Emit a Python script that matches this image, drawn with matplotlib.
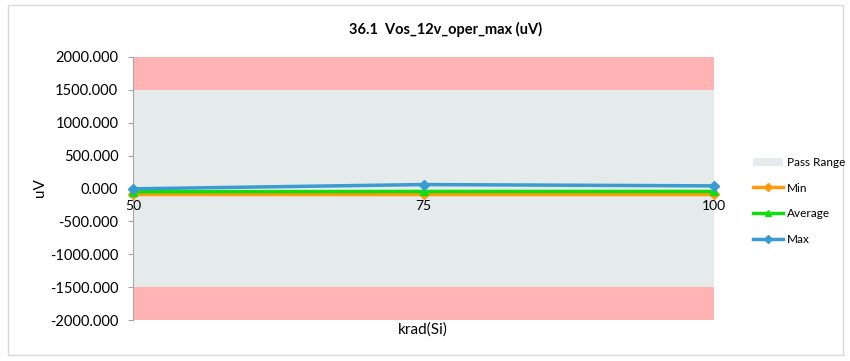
import matplotlib
matplotlib.use("Agg")
import matplotlib.pyplot as plt
from matplotlib.patches import Rectangle, Patch
from matplotlib.lines import Line2D

plt.rcParams['font.family'] = ['Lato', 'DejaVu Sans']

title = "36.1  Vos_12v_oper_max (uV)"
krad = [50, 75, 100]
min_vals = [-90, -90, -90]
avg_vals = [-50, -45, -45]
max_vals = [-5, 60, 40]
pass_low, pass_high = -1500, 1500
y_low, y_high = -2000, 2000
yticks = [2000, 1500, 1000, 500, 0, -500, -1000, -1500, -2000]

c_min = '#ff9a0a'
c_avg = '#11dd11'
c_max = '#3a9bd0'
c_pass = '#e5eaea'
c_fail = '#ffb3b3'

fig = plt.figure(figsize=(8.5, 3.61), dpi=100)
fig.patches.append(Rectangle((8/850, 1-355/361), 835/850, 350/361, transform=fig.transFigure,
                             fill=False, edgecolor='#d9d9d9', linewidth=1))
ax = fig.add_axes([133/850, 1-320/361, (714-133)/850, (320-57)/361])

ax.axhspan(pass_low, pass_high, color=c_pass, lw=0, zorder=0)
ax.axhspan(pass_high, y_high, color=c_fail, lw=0, zorder=0)
ax.axhspan(y_low, pass_low, color=c_fail, lw=0, zorder=0)

ax.plot(krad, min_vals, color=c_min, lw=2.5, marker='D', ms=5, zorder=3, clip_on=False)
ax.plot(krad, avg_vals, color=c_avg, lw=2.5, marker='^', ms=6, zorder=4, clip_on=False)
ax.plot(krad, max_vals, color=c_max, lw=2.5, marker='D', ms=5, zorder=5, clip_on=False)

ax.set_xlim(50, 100)
ax.set_ylim(y_low, y_high)
ax.set_yticks(yticks)
ax.set_yticklabels([f"{v:.3f}" for v in yticks], fontsize=10.5)
ax.set_xticks(krad)
ax.set_xticklabels([str(k) for k in krad], fontsize=9)
ax.spines['bottom'].set_position(('data', 0))
ax.spines['bottom'].set_visible(False)
ax.spines['top'].set_visible(False)
ax.spines['right'].set_visible(False)
ax.spines['left'].set_color('#a6a6a6')
ax.tick_params(axis='x', length=0, pad=8)
ax.tick_params(axis='y', length=3.6, color='#a6a6a6', pad=7)

fig.text(446/850, 1-29/361, title, ha='center', va='center', fontsize=10.5, fontweight='bold')
fig.text(423/850, 1-330/361, "krad(Si)", ha='center', va='center', fontsize=11)
fig.text(40/850, 1-188/361, "uV", ha='center', va='center', fontsize=11, rotation=90)

handles = [Patch(facecolor=c_pass, edgecolor='none', label='Pass Range'),
           Line2D([], [], color=c_min, lw=2.5, marker='D', ms=4, label='Min'),
           Line2D([], [], color=c_avg, lw=2.5, marker='^', ms=5, label='Average'),
           Line2D([], [], color=c_max, lw=2.5, marker='D', ms=4, label='Max')]
fig.legend(handles=handles, loc='center left', bbox_to_anchor=(742/850, 1-201/361), frameon=False,
           fontsize=8.5, handlelength=2.6, labelspacing=1.25, handletextpad=0.3)

fig.savefig('out.png', dpi=100)
